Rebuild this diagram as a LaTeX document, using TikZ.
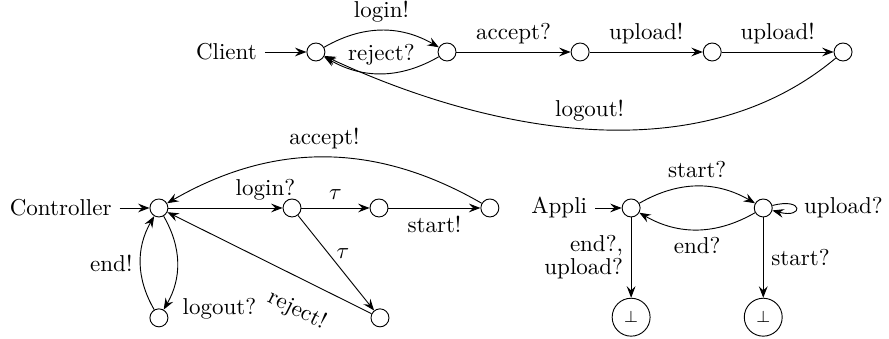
\documentclass[tikz,border=0pt]{standalone}
\usepackage{amsmath}
\usepackage{amssymb}
\usetikzlibrary{arrows.meta}

\begin{document}
\begin{tikzpicture}[>={Stealth[length=5pt,width=3.8pt,inset=1.8pt]},
  st/.style={circle,draw,minimum size=2.75mm,inner sep=0pt},
  sink/.style={circle,draw,minimum size=5.8mm,inner sep=0pt,font=\scriptsize}]
  \useasboundingbox (0,-5.183) rectangle (13.593,0);
  % Client
  \node[st] (c0) at (4.83,-0.795) {};
  \node[st] (c1) at (6.835,-0.795) {};
  \node[st] (c2) at (8.87,-0.795) {};
  \node[st] (c3) at (10.89,-0.795) {};
  \node[st] (c4) at (12.89,-0.795) {};
  \node[anchor=east] (cname) at (4.05,-0.795) {Client};
  \draw[->] (cname) -- (c0);
  \draw[->] (c0) to[bend left=30] node[above] {login!} (c1);
  \draw[->] (c1) to[bend left=30] node[above] {reject?} (c0);
  \draw[->] (c1) -- node[above] {accept?} (c2);
  \draw[->] (c2) -- node[above] {upload!} (c3);
  \draw[->] (c3) -- node[above] {upload!} (c4);
  \draw[->] (c4) to[out=-140,in=-25,looseness=0.9] node[above] {logout!} (c0);

  % Controller
  \node[st] (n0) at (2.43,-3.18) {};
  \node[st] (n1) at (4.465,-3.18) {};
  \node[st] (n2) at (5.795,-3.18) {};
  \node[st] (n3) at (7.49,-3.18) {};
  \node[st] (n4) at (2.43,-4.86) {};
  \node[st] (n5) at (5.81,-4.86) {};
  \node[anchor=east] (nname) at (1.83,-3.18) {Controller};
  \draw[->] (nname) -- (n0);
  \draw[->] (n0) -- node[above,pos=0.85] {login?} (n1);
  \draw[->] (n1) -- node[above] {$\tau$} (n2);
  \draw[->] (n2) -- node[below] {start!} (n3);
  \draw[->] (n3) to[out=150,in=30] node[above] {accept!} (n0);
  \draw[->] (n1) -- node[right,pos=0.4] {$\tau$} (n5);
  \draw[->] (n5) -- node[sloped,below=5pt,pos=0.3] {reject!} (n0);
  \draw[->] (n0) to[bend left=30] node[right,pos=0.92,xshift=3pt,yshift=-3pt] {logout?} (n4);
  \draw[->] (n4) to[bend left=30] node[left] {end!} (n0);

  % Appli
  \node[st] (a0) at (9.65,-3.18) {};
  \node[st] (a1) at (11.67,-3.18) {};
  \node[sink] (s0) at (9.65,-4.85) {$\bot$};
  \node[sink] (s1) at (11.67,-4.85) {$\bot$};
  \node[anchor=east] (aname) at (9.1,-3.18) {Appli};
  \draw[->] (aname) -- (a0);
  \draw[->] (a0) to[bend left=30] node[above] {start?} (a1);
  \draw[->] (a1) to[bend left=30] node[below] {end?} (a0);
  \draw[->] (a1) to[loop right] node[right] {upload?} (a1);
  \draw[->] (a0) -- node[left,align=right] {end?,\\[-2pt]upload?} (s0);
  \draw[->] (a1) -- node[right] {start?} (s1);
\end{tikzpicture}
\end{document}
